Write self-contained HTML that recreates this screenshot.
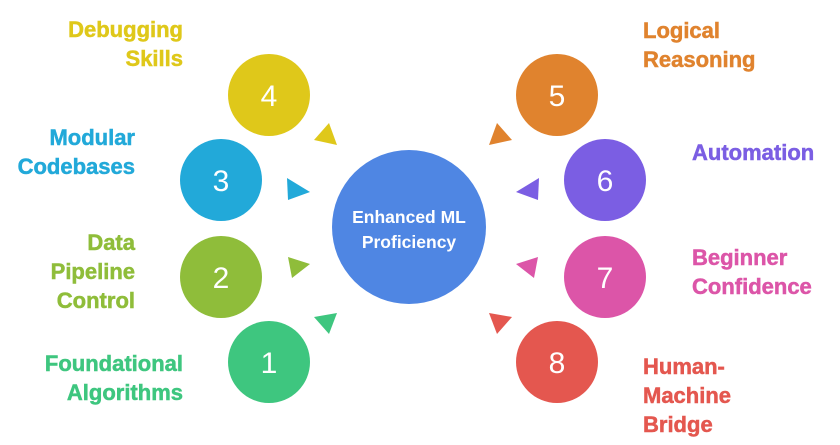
<!DOCTYPE html>
<html><head><meta charset="utf-8"><style>
html,body{margin:0;padding:0;background:#fff;width:840px;height:445px;overflow:hidden}
svg{display:block}
text{font-family:"Liberation Sans",sans-serif;font-weight:bold}
</style></head><body>
<svg width="840" height="445" viewBox="0 0 840 445">
<circle cx="409" cy="227" r="77" fill="#4f86e3"/>
<text x="409" y="223" font-size="17.5" fill="#fff" text-anchor="middle">Enhanced ML</text>
<text x="409" y="248" font-size="17.5" fill="#fff" text-anchor="middle">Proficiency</text>

<g font-size="30" text-anchor="middle" fill="#fff">
<circle cx="269" cy="95" r="41" fill="#dfc81a"/><text x="269" y="106" style="font-weight:normal">4</text>
<circle cx="221" cy="180" r="41" fill="#22a9d9"/><text x="221" y="191" style="font-weight:normal">3</text>
<circle cx="221" cy="277" r="41" fill="#8fbd3a"/><text x="221" y="288" style="font-weight:normal">2</text>
<circle cx="269" cy="362" r="41" fill="#3ec67f"/><text x="269" y="373" style="font-weight:normal">1</text>
<circle cx="557" cy="95" r="41" fill="#e0832e"/><text x="557" y="106" style="font-weight:normal">5</text>
<circle cx="605" cy="180" r="41" fill="#7b5ee3"/><text x="605" y="191" style="font-weight:normal">6</text>
<circle cx="605" cy="277" r="41" fill="#dc55a8"/><text x="605" y="288" style="font-weight:normal">7</text>
<circle cx="557" cy="362" r="41" fill="#e4574f"/><text x="557" y="373" style="font-weight:normal">8</text>
</g>

<polygon points="329,123 314,140 337,145" fill="#dfc81a"/>
<polygon points="287,178 310,192 288,200" fill="#22a9d9"/>
<polygon points="288,257 310,264 292,278" fill="#8fbd3a"/>
<polygon points="337,313 314,317 329,334" fill="#3ec67f"/>
<polygon points="497,123 512,140 489,145" fill="#e0832e"/>
<polygon points="539,178 516,192 538,200" fill="#7b5ee3"/>
<polygon points="538,257 516,264 534,278" fill="#dc55a8"/>
<polygon points="489,313 512,317 497,334" fill="#e4574f"/>

<g font-size="22" text-anchor="end" stroke-width="0.5">
<text x="183" y="37" fill="#dfc81a" stroke="#dfc81a">Debugging</text>
<text x="183" y="66" fill="#dfc81a" stroke="#dfc81a">Skills</text>
<text x="135" y="145" fill="#22a9d9" stroke="#22a9d9">Modular</text>
<text x="135" y="174" fill="#22a9d9" stroke="#22a9d9">Codebases</text>
<text x="135" y="250" fill="#8fbd3a" stroke="#8fbd3a">Data</text>
<text x="135" y="279" fill="#8fbd3a" stroke="#8fbd3a">Pipeline</text>
<text x="135" y="308" fill="#8fbd3a" stroke="#8fbd3a">Control</text>
<text x="183" y="371" fill="#3ec67f" stroke="#3ec67f">Foundational</text>
<text x="183" y="400" fill="#3ec67f" stroke="#3ec67f">Algorithms</text>
</g>
<g font-size="22" text-anchor="start" stroke-width="0.5">
<text x="643" y="38" fill="#e0832e" stroke="#e0832e">Logical</text>
<text x="643" y="67" fill="#e0832e" stroke="#e0832e">Reasoning</text>
<text x="692" y="160" fill="#7b5ee3" stroke="#7b5ee3">Automation</text>
<text x="692" y="265" fill="#dc55a8" stroke="#dc55a8">Beginner</text>
<text x="692" y="294" fill="#dc55a8" stroke="#dc55a8">Confidence</text>
<text x="643" y="374" fill="#e4574f" stroke="#e4574f">Human-</text>
<text x="643" y="403" fill="#e4574f" stroke="#e4574f">Machine</text>
<text x="643" y="432" fill="#e4574f" stroke="#e4574f">Bridge</text>
</g>
</svg>
</body></html>
